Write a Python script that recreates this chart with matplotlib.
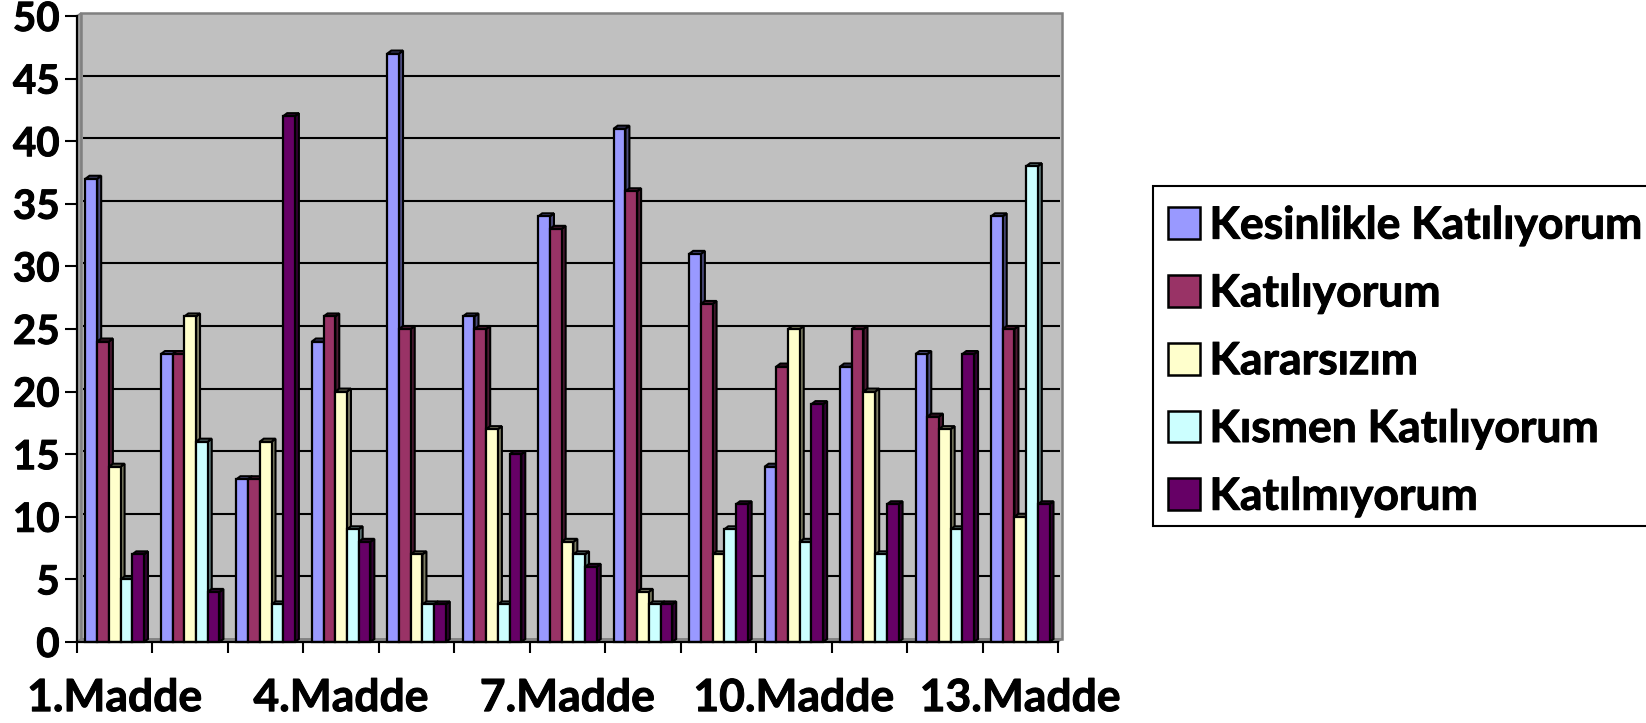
import matplotlib
matplotlib.use("Agg")
import matplotlib.pyplot as plt
import matplotlib.patches as mpatches
import matplotlib.patheffects as pe
import numpy as np
from matplotlib.colors import to_rgb

plt.rcParams["font.family"] = ["Lato", "DejaVu Sans"]
plt.rcParams["font.weight"] = "bold"

# values, one list per answer
series_names = ["Kesinlikle Katılıyorum", "Katılıyorum", "Kararsızım",
                "Kısmen Katılıyorum", "Katılmıyorum"]
kesinlikle = [37, 23, 13, 24, 47, 26, 34, 41, 31, 14, 22, 23, 34]
katiliyorum = [24, 23, 13, 26, 25, 25, 33, 36, 27, 22, 25, 18, 25]
kararsizim = [14, 26, 16, 20, 7, 17, 8, 4, 7, 25, 20, 17, 10]
kismen = [5, 16, 3, 9, 3, 3, 7, 3, 9, 8, 7, 9, 38]
katilmiyorum = [7, 4, 42, 8, 3, 15, 6, 3, 11, 19, 11, 23, 11]
series_values = [kesinlikle, katiliyorum, kararsizim, kismen, katilmiyorum]
labelled_items = [0, 3, 6, 9, 12]
item_labels = ["1.Madde", "4.Madde", "7.Madde", "10.Madde", "13.Madde"]
y_ticks = [0, 5, 10, 15, 20, 25, 30, 35, 40, 45, 50]

colors = ["#9999FF", "#993366", "#FFFFCC", "#CCFFFF", "#660066"]

W, H = 1646, 723
AX_L, AX_R, AX_T, AX_B = 77, 1058, 16, 642  # axes box, pixels
FS = 32
heavy = [pe.withStroke(linewidth=0.7, foreground="black")]

fig = plt.figure(figsize=(W / 100, H / 100), dpi=100, facecolor="white")
ax = fig.add_axes([AX_L / W, 1 - AX_B / H, (AX_R - AX_L) / W, (AX_B - AX_T) / H])
ax.set_xlim(0, 13)
ax.set_ylim(0, 50)
ax.patch.set_visible(False)

# 3d depth, in data units
dx = 4.0 / ((AX_R - AX_L) / 13)
dy = 3.0 / ((AX_B - AX_T) / 50)

# walls and floor
ax.add_patch(mpatches.Rectangle((dx, dy), 13, 50, facecolor="#C0C0C0",
                                edgecolor="#808080", lw=1.8, zorder=0, clip_on=False))
ax.add_patch(mpatches.Polygon([(0, 0), (dx, dy), (dx, 50 + dy), (0, 50)], facecolor="#A0A0A0",
                              edgecolor="#808080", lw=1.2, zorder=0.5, clip_on=False))
ax.add_patch(mpatches.Polygon([(0, 0), (dx, dy), (13 + dx, dy), (13, 0)], facecolor="#8C8C8C",
                              edgecolor="#808080", lw=1.0, zorder=0.5, clip_on=False))
for t in y_ticks[1:-1]:
    ax.plot([dx + 0.02, 13 + dx - 0.02], [t + dy, t + dy], color="black", lw=1.5,
            zorder=1, clip_on=False, solid_capstyle="butt")

# bars
gap = 0.225
bar_w = (1 - gap) / 5
x = np.arange(13)
for i, (vals, col) in enumerate(zip(series_values, colors)):
    left = x + gap / 2 + i * bar_w
    z = 2 + i
    dark = tuple(c * 0.5 for c in to_rgb(col))
    for x0, v in zip(left, vals):
        ax.add_patch(mpatches.Polygon(
            [(x0 + bar_w, 0), (x0 + bar_w + dx, dy), (x0 + bar_w + dx, v + dy), (x0 + bar_w, v)],
            facecolor=dark, edgecolor="black", lw=1.5, zorder=z, clip_on=False))
        ax.add_patch(mpatches.Polygon(
            [(x0, v), (x0 + dx, v + dy), (x0 + bar_w + dx, v + dy), (x0 + bar_w, v)],
            facecolor=dark, edgecolor="black", lw=1.5, zorder=z, clip_on=False))
    ax.bar(left, vals, width=bar_w, align="edge", color=col, edgecolor="black",
           lw=1.6, zorder=z + 0.1, clip_on=False)

# axes
for side in ["top", "right"]:
    ax.spines[side].set_visible(False)
for side in ["left", "bottom"]:
    ax.spines[side].set_linewidth(1.6)
    ax.spines[side].set_zorder(10)

ax.set_yticks(y_ticks)
ax.tick_params(axis="y", length=8.5, width=1.5, pad=4, labelsize=29)
ax.set_xticks(np.arange(14))
ax.set_xticklabels([])
ax.tick_params(axis="x", which="major", length=8, width=1.5)
ax.set_xticks([i + 0.5 for i in labelled_items], item_labels, minor=True)
ax.tick_params(axis="x", which="minor", length=0, pad=26, labelsize=FS)

# legend box runs past the right edge of the picture, as in the source
fig.add_artist(mpatches.Rectangle((1153 / W, 1 - 526 / H), 520 / W, 340 / H, transform=fig.transFigure,
                                  facecolor="white", edgecolor="black", lw=1.5))
handles = [mpatches.Patch(facecolor=c, edgecolor="black", lw=1.8, label=n)
           for c, n in zip(colors, series_names)]
leg = fig.legend(handles=handles, loc="upper left", bbox_to_anchor=(1153 / W, 1 - 191 / H),
                 borderaxespad=0, fontsize=FS, frameon=False,
                 handlelength=0.72, handleheight=0.72,
                 handletextpad=0.22, borderpad=0.33, labelspacing=0.625)

for t in ax.get_yticklabels() + ax.get_xticklabels(minor=True) + leg.get_texts():
    t.set_path_effects(heavy)

fig.savefig("out.png", dpi=100)
